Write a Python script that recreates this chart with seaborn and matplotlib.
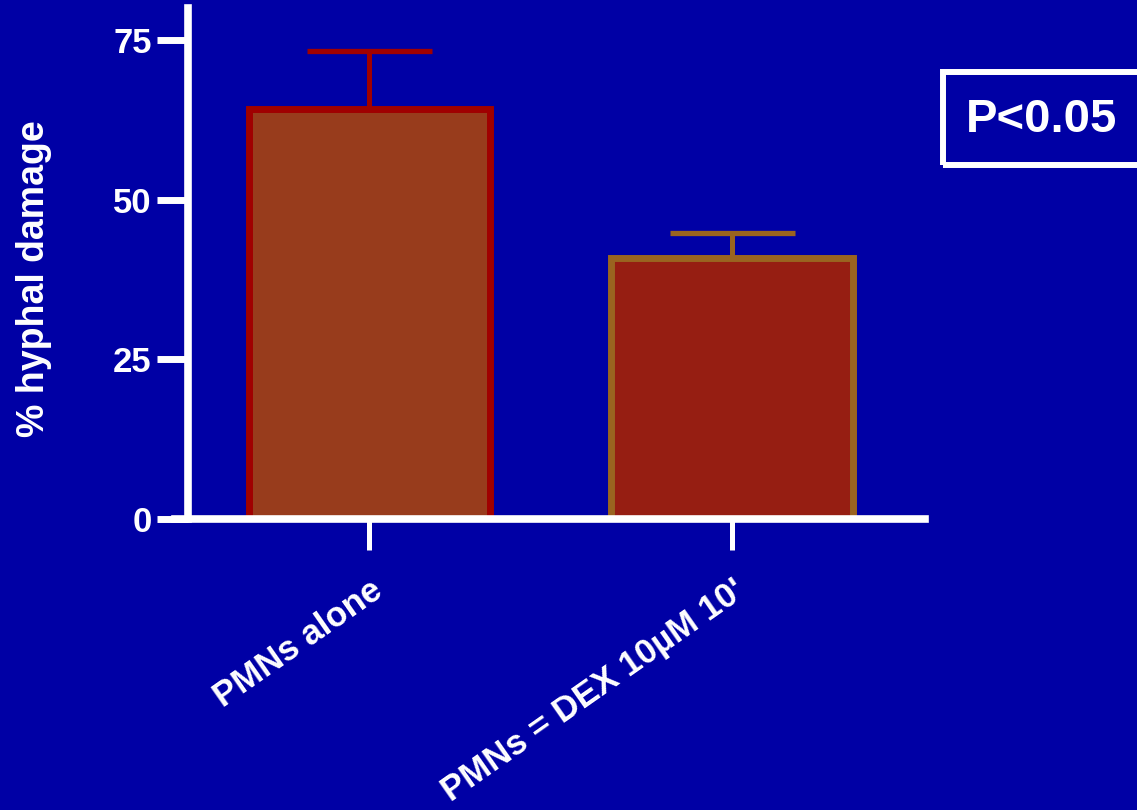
import numpy as np
import pandas as pd
import matplotlib
matplotlib.use('Agg')
import matplotlib.pyplot as plt
import matplotlib.patches as mpatches
import seaborn as sns

# Datos
categories = ['PMNs alone', "PMNs = DEX 10µM 10'"]
damage = [64.2, 40.9]
sem_up = [9.1, 3.9]
fill_colors = ['#983C1C', '#961E12']
edge_colors = ['#A00000', '#9A6420']
y_ticks = [0, 25, 50, 75]

bg = '#0000A5'

sns.set_theme(style='white')
plt.rcParams['font.family'] = ['Liberation Sans', 'DejaVu Sans']
plt.rcParams['font.weight'] = 'bold'

fig = plt.figure(figsize=(11.37, 8.10), dpi=100, facecolor=bg)
ax = fig.add_axes([0.1653, 0.3593, 0.648, 0.6309])
ax.set_facecolor(bg)

df = pd.DataFrame({'group': categories, 'damage': damage})
sns.barplot(data=df, x='group', y='damage', hue='group', palette=fill_colors,
            saturation=1, width=0.666, errorbar=None, legend=False,
            linewidth=5, ax=ax, zorder=3)
for patch, ec in zip(ax.patches, edge_colors):
    patch.set_edgecolor(ec)
    patch.set_linewidth(5)

# barras de error solo hacia arriba
for i, (m, e, ec) in enumerate(zip(damage, sem_up, edge_colors)):
    _, caps, bars = ax.errorbar(i, m, yerr=[[0], [e]], fmt='none', ecolor=ec,
                                elinewidth=3.6, capsize=45, capthick=3.8, zorder=2)
    for b in bars:
        b.set_capstyle('round')

ax.set_xlim(-0.5, 1.531)
ax.set_ylim(0, 80)
ax.set_yticks(y_ticks)
ax.set_yticklabels([str(t) for t in y_ticks])

for side in ['top', 'right']:
    ax.spines[side].set_visible(False)
for side in ['left', 'bottom']:
    ax.spines[side].set_color('white')
    ax.spines[side].set_linewidth(5.5)
    ax.spines[side].set_zorder(4)
ax.spines['bottom'].set_bounds(-0.535, 1.531)

ax.tick_params(axis='y', colors='white', length=22, width=5, direction='out',
               labelsize=25, pad=4, left=True)
ax.tick_params(axis='x', colors='white', length=22, width=3.6, direction='out',
               labelsize=25, pad=17, bottom=True)
for lab in ax.get_yticklabels():
    lab.set_fontweight('bold')
for lab in ax.get_xticklabels():
    lab.set_fontweight('bold')
    lab.set_rotation(35)
    lab.set_ha('right')
    lab.set_rotation_mode('anchor')

ax.set_xlabel('')
ax.set_ylabel('% hyphal damage', color='white', fontsize=27, fontweight='bold')
ax.yaxis.set_label_coords(-0.185, 0.47)

# recuadro P<0.05
rect = mpatches.Rectangle((943 / 1137, 1 - 165 / 810), 220 / 1137, 93 / 810,
                          transform=fig.transFigure, fill=False,
                          edgecolor='white', linewidth=4.3, joinstyle='miter')
fig.patches.append(rect)
fig.text(1041.5 / 1137, 1 - 131.7 / 810, 'P<0.05', color='white', fontsize=34,
         fontweight='bold', ha='center', va='baseline')

plt.savefig('out.png', dpi=100, facecolor=bg)
plt.close()
